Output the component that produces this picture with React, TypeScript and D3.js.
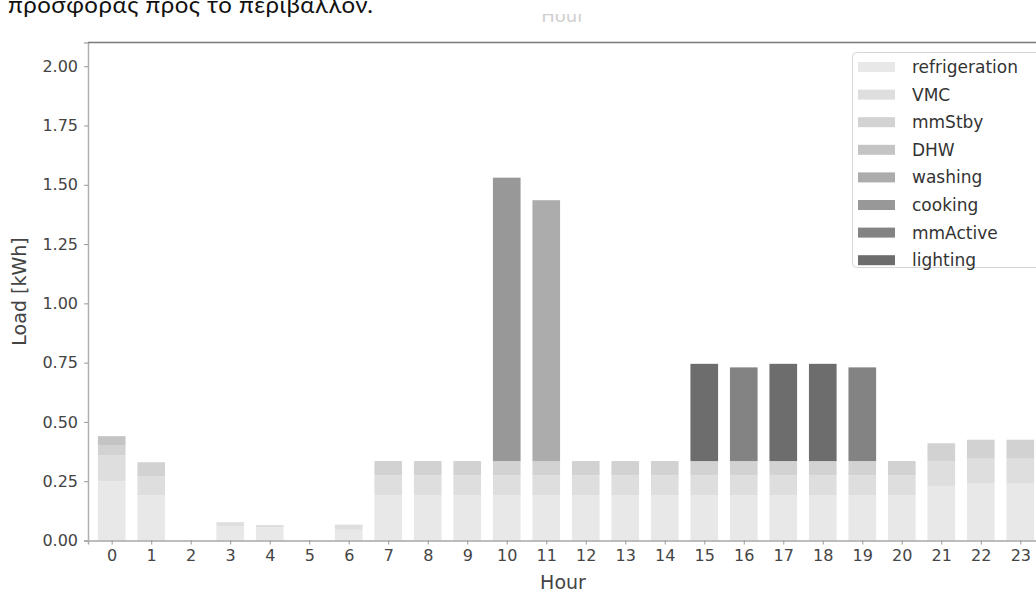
import { useEffect, useRef } from 'react';
import * as d3 from 'd3';

const hours = [0, 1, 2, 3, 4, 5, 6, 7, 8, 9, 10, 11, 12, 13, 14, 15, 16, 17, 18, 19, 20, 21, 22, 23];

const refrigeration = [0.25, 0.19, 0, 0.06, 0.055, 0, 0.045, 0.19, 0.19, 0.19, 0.19, 0.19, 0.19, 0.19, 0.19, 0.19, 0.19, 0.19, 0.19, 0.19, 0.19, 0.23, 0.24, 0.24];
const vmc = [0.11, 0.08, 0, 0.017, 0.01, 0, 0.022, 0.085, 0.085, 0.085, 0.085, 0.085, 0.085, 0.085, 0.085, 0.085, 0.085, 0.085, 0.085, 0.085, 0.085, 0.105, 0.105, 0.105];
const mmStby = [0.04, 0.06, 0, 0, 0, 0, 0, 0.06, 0.06, 0.06, 0.06, 0.06, 0.06, 0.06, 0.06, 0.06, 0.06, 0.06, 0.06, 0.06, 0.06, 0.075, 0.08, 0.08];
const dhw = [0.04, 0, 0, 0, 0, 0, 0, 0, 0, 0, 0, 0, 0, 0, 0, 0, 0, 0, 0, 0, 0, 0, 0, 0];
const washing = [0, 0, 0, 0, 0, 0, 0, 0, 0, 0, 0, 1.1, 0, 0, 0, 0, 0, 0, 0, 0, 0, 0, 0, 0];
const cooking = [0, 0, 0, 0, 0, 0, 0, 0, 0, 0, 1.195, 0, 0, 0, 0, 0, 0, 0, 0, 0, 0, 0, 0, 0];
const mmActive = [0, 0, 0, 0, 0, 0, 0, 0, 0, 0, 0, 0, 0, 0, 0, 0, 0.395, 0, 0, 0.395, 0, 0, 0, 0];
const lighting = [0, 0, 0, 0, 0, 0, 0, 0, 0, 0, 0, 0, 0, 0, 0, 0.41, 0, 0.41, 0.41, 0, 0, 0, 0, 0];

const seriesNames = ['refrigeration', 'VMC', 'mmStby', 'DHW', 'washing', 'cooking', 'mmActive', 'lighting'];
const seriesValues = [refrigeration, vmc, mmStby, dhw, washing, cooking, mmActive, lighting];
const seriesColors = ['#e8e8e8', '#dedede', '#d2d2d2', '#c4c4c4', '#acacac', '#989898', '#838383', '#6d6d6d'];

const yTicks = [0, 0.25, 0.5, 0.75, 1.0, 1.25, 1.5, 1.75, 2.0];

export default function App() {
  const svgRef = useRef<SVGSVGElement>(null);

  useEffect(() => {
    const svg = d3.select(svgRef.current);
    svg.selectAll('*').remove();

    const W = 1036;
    const H = 590;
    const left = 88;
    const right = 1044;
    const top = 42.5;
    const bottom = 540.5;
    const font = 'DejaVu Sans, sans-serif';

    svg.attr('width', W).attr('height', H);

    // table for the stack
    const rows = hours.map((h, i) => {
      const r: Record<string, number> = { hour: h };
      seriesNames.forEach((n, k) => (r[n] = seriesValues[k][i]));
      return r;
    });
    const stacked = d3.stack<Record<string, number>>().keys(seriesNames)(rows);

    const x = d3.scaleLinear().domain([-0.6, 23.6]).range([left, right]);
    const y = d3.scaleLinear().domain([0, 2.1]).range([bottom, top]);
    const barW = x(0.7) - x(0);

    // bars
    svg
      .append('g')
      .selectAll('g')
      .data(stacked)
      .join('g')
      .attr('fill', (_, k) => seriesColors[k])
      .selectAll('rect')
      .data((d) => d)
      .join('rect')
      .attr('x', (d) => x(d.data.hour) - barW / 2)
      .attr('y', (d) => y(d[1]))
      .attr('width', barW)
      .attr('height', (d) => Math.max(0, y(d[0]) - y(d[1])));

    // axes
    const xAxis = svg
      .append('g')
      .attr('transform', `translate(0,${bottom})`)
      .call(d3.axisBottom(x).tickValues(hours).tickFormat(d3.format('d')).tickSize(4).tickPadding(5));
    xAxis.select('.domain').attr('stroke', '#a8a8a8').attr('stroke-width', 1.5);
    xAxis.selectAll('.tick line').attr('stroke', '#999');
    xAxis.selectAll('.tick text').attr('fill', '#444').attr('font-size', 16).attr('font-family', font);

    const yAxis = svg
      .append('g')
      .attr('transform', `translate(${left},0)`)
      .call(d3.axisLeft(y).tickValues(yTicks).tickFormat(d3.format('.2f')).tickSize(4).tickPadding(6));
    yAxis.select('.domain').attr('stroke', '#b0b0b0').attr('stroke-width', 1.5);
    yAxis.selectAll('.tick line').attr('stroke', '#999');
    yAxis.selectAll('.tick text').attr('fill', '#444').attr('font-size', 16).attr('font-family', font);

    // top spine
    svg
      .append('line')
      .attr('x1', left)
      .attr('x2', right)
      .attr('y1', top)
      .attr('y2', top)
      .attr('stroke', '#7a7a7a')
      .attr('stroke-width', 1.5);

    // axis labels
    svg
      .append('text')
      .attr('x', (left + right) / 2 - 3)
      .attr('y', 589)
      .attr('text-anchor', 'middle')
      .attr('font-family', font)
      .attr('font-size', 19)
      .attr('fill', '#444')
      .text('Hour');

    svg
      .append('text')
      .attr('transform', `translate(26,${(top + bottom) / 2}) rotate(-90)`)
      .attr('text-anchor', 'middle')
      .attr('font-family', font)
      .attr('font-size', 19)
      .attr('fill', '#444')
      .text('Load [kWh]');

    // legend
    const lg = svg.append('g');
    lg.append('rect')
      .attr('x', 852.5)
      .attr('y', 52.5)
      .attr('width', 200)
      .attr('height', 215)
      .attr('rx', 4)
      .attr('fill', '#fff')
      .attr('fill-opacity', 0.85)
      .attr('stroke', '#d6d6d6');
    const item = lg
      .selectAll('g.item')
      .data(seriesNames)
      .join('g')
      .attr('class', 'item')
      .attr('transform', (_, i) => `translate(0,${67 + i * 27.6})`);
    item
      .append('rect')
      .attr('x', 858)
      .attr('y', -5)
      .attr('width', 37)
      .attr('height', 10)
      .attr('fill', (_, i) => seriesColors[i]);
    item
      .append('text')
      .attr('x', 912)
      .attr('dy', '0.35em')
      .attr('font-family', font)
      .attr('font-size', 17)
      .attr('fill', '#333')
      .text((d) => d);

    // cropped title and document line above the figure
    const clip = svg.append('clipPath').attr('id', 'titleClip');
    clip.append('rect').attr('x', 0).attr('y', 14).attr('width', W).attr('height', 20);
    svg
      .append('text')
      .attr('clip-path', 'url(#titleClip)')
      .attr('x', (left + right) / 2 - 3)
      .attr('y', 22)
      .attr('text-anchor', 'middle')
      .attr('font-family', font)
      .attr('font-size', 18)
      .attr('fill', '#d0d0d0')
      .text('Hour');

    svg
      .append('text')
      .attr('x', 8)
      .attr('y', 13)
      .attr('font-family', 'Lato, Open Sans, sans-serif')
      .attr('font-size', 24)
      .attr('textLength', 365)
      .attr('fill', '#111')
      .text('προσφοράς προς το περιβάλλον.');
  }, []);

  return (
    <div style={{ position: 'fixed', left: 0, top: 0, width: 1036, height: 590, overflow: 'hidden', background: '#fff' }}>
      <svg ref={svgRef}></svg>
    </div>
  );
}
